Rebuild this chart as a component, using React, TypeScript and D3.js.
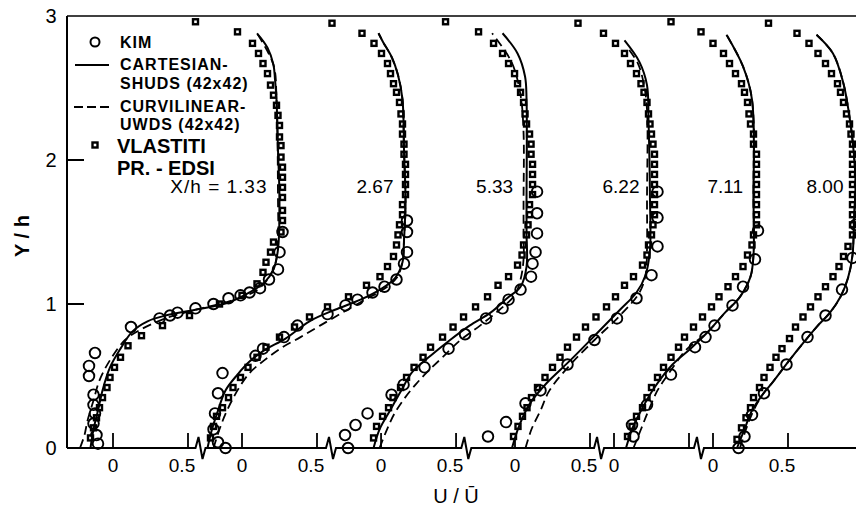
import React from "react";
import * as d3 from "d3";

// ---------- data (U/Ubar, Y/h) ----------
const stations = ["X/h = 1.33", "2.67", "5.33", "6.22", "7.11", "8.00"];
// zero of each profile on the shared U/Ubar axis
const offsets = [0, 0.86, 1.787, 2.68, 3.34, 4.0];
const yTicks = [0, 1, 2, 3];
const xTickValues = [0, 0.5];
const xTickLabelShown = [
  [true, true], [true, true], [true, true], [true, true], [true, false], [true, true],
];
const breakU = [0.59, 0.6, 0.575, 0.567, 0.573];

const kim1 = [[1.13,1.50],[1.11,1.36],[1.10,1.24],[1.04,1.17],[0.98,1.11],[0.91,1.08],[0.85,1.06],[0.77,1.04],[0.67,1.00],[0.55,0.97],[0.43,0.94],[0.38,0.92],[0.31,0.90],[0.12,0.84],[-0.12,0.66],[-0.16,0.57],[-0.16,0.50],[-0.13,0.37],[-0.13,0.30],[-0.12,0.24],[-0.13,0.17],[-0.11,0.09],[-0.10,0.03]];
const kim2 = [[1.10,1.58],[1.10,1.50],[1.10,1.36],[1.08,1.28],[1.03,1.17],[0.95,1.12],[0.87,1.08],[0.77,1.03],[0.69,0.99],[0.57,0.93],[0.37,0.85],[0.28,0.77],[0.14,0.69],[0.09,0.64],[-0.13,0.52],[-0.16,0.38],[-0.18,0.24],[-0.19,0.13],[-0.16,0.04],[-0.11,0.0]];
const kim3 = [[1.04,1.78],[1.04,1.63],[1.04,1.49],[1.03,1.36],[1.01,1.28],[1.00,1.19],[0.93,1.10],[0.85,1.03],[0.81,0.97],[0.70,0.90],[0.56,0.79],[0.45,0.69],[0.29,0.56],[0.15,0.44],[0.07,0.37],[-0.09,0.24],[-0.17,0.16],[-0.24,0.09],[-0.22,0.0]];
const kim4 = [[0.95,1.78],[0.95,1.60],[0.95,1.40],[0.91,1.20],[0.81,1.04],[0.68,0.90],[0.53,0.75],[0.35,0.58],[0.17,0.40],[0.07,0.31],[-0.06,0.18],[-0.18,0.08]];
const kim5 = [[0.96,1.51],[0.94,1.31],[0.86,1.12],[0.79,0.99],[0.67,0.85],[0.61,0.77],[0.54,0.70],[0.38,0.51],[0.22,0.30],[0.12,0.16],[0.13,0.08]];
const kim6 = [[0.95,1.55],[0.93,1.32],[0.86,1.10],[0.75,0.92],[0.63,0.77],[0.49,0.58],[0.34,0.38],[0.26,0.23],[0.21,0.08],[0.17,0.0]];

const vla1 = [[0.55,2.96],[0.83,2.89],[0.93,2.81],[0.97,2.74],[1.00,2.67],[1.03,2.60],[1.05,2.52],[1.07,2.45],[1.09,2.38],[1.10,2.31],[1.11,2.24],[1.11,2.16],[1.12,2.10],[1.12,2.02],[1.13,1.95],[1.13,1.88],[1.13,1.81],[1.13,1.74],[1.13,1.65],[1.13,1.58],[1.12,1.50],[1.07,1.43],[1.05,1.36],[1.02,1.29],[1.00,1.22],[0.96,1.14],[0.86,1.06],[0.71,1.00],[0.51,0.92],[0.33,0.85],[0.19,0.78],[0.10,0.71],[0.05,0.63],[0.01,0.56],[-0.02,0.49],[-0.04,0.42],[-0.07,0.35],[-0.09,0.28],[-0.11,0.21],[-0.13,0.14],[-0.15,0.07]];
const vla2 = [[0.60,2.95],[0.80,2.88],[0.88,2.81],[0.93,2.74],[0.97,2.67],[0.99,2.60],[1.01,2.53],[1.03,2.47],[1.05,2.40],[1.06,2.32],[1.07,2.25],[1.07,2.18],[1.08,2.11],[1.08,2.04],[1.09,1.97],[1.09,1.90],[1.09,1.83],[1.09,1.76],[1.07,1.69],[1.07,1.62],[1.05,1.55],[1.04,1.48],[1.03,1.41],[1.01,1.33],[0.97,1.26],[0.92,1.19],[0.83,1.13],[0.71,1.05],[0.57,0.98],[0.45,0.91],[0.35,0.84],[0.25,0.77],[0.16,0.70],[0.10,0.63],[0.04,0.56],[-0.01,0.49],[-0.06,0.42],[-0.09,0.35],[-0.13,0.28],[-0.17,0.22],[-0.19,0.15],[-0.21,0.07]];
const vla3 = [[0.43,2.96],[0.65,2.89],[0.75,2.81],[0.81,2.74],[0.85,2.67],[0.89,2.60],[0.91,2.53],[0.93,2.47],[0.95,2.40],[0.96,2.32],[0.97,2.25],[0.99,2.18],[1.00,2.11],[1.00,2.04],[1.01,1.97],[1.01,1.90],[1.01,1.83],[1.01,1.76],[0.99,1.69],[0.99,1.62],[0.98,1.55],[0.97,1.48],[0.95,1.41],[0.94,1.34],[0.91,1.27],[0.85,1.19],[0.78,1.13],[0.71,1.05],[0.63,0.98],[0.55,0.91],[0.48,0.84],[0.41,0.77],[0.33,0.70],[0.28,0.63],[0.22,0.56],[0.17,0.49],[0.13,0.42],[0.08,0.35],[0.05,0.28],[0.01,0.22],[-0.03,0.15],[-0.05,0.07]];
const vla4 = [[0.42,2.95],[0.59,2.88],[0.67,2.81],[0.73,2.74],[0.77,2.67],[0.81,2.60],[0.84,2.53],[0.86,2.47],[0.88,2.40],[0.89,2.32],[0.90,2.25],[0.91,2.18],[0.92,2.11],[0.93,2.04],[0.93,1.97],[0.93,1.90],[0.93,1.83],[0.93,1.76],[0.93,1.69],[0.93,1.62],[0.92,1.55],[0.91,1.48],[0.89,1.41],[0.88,1.34],[0.85,1.27],[0.79,1.19],[0.73,1.13],[0.67,1.05],[0.61,0.98],[0.54,0.91],[0.47,0.84],[0.41,0.77],[0.35,0.70],[0.30,0.63],[0.25,0.56],[0.20,0.49],[0.15,0.42],[0.11,0.35],[0.08,0.28],[0.05,0.22],[0.02,0.15],[-0.01,0.08]];
const vla5 = [[0.38,2.96],[0.58,2.89],[0.66,2.81],[0.73,2.74],[0.77,2.67],[0.81,2.60],[0.85,2.53],[0.87,2.47],[0.89,2.40],[0.90,2.32],[0.91,2.25],[0.93,2.18],[0.93,2.11],[0.95,2.04],[0.95,1.97],[0.95,1.90],[0.95,1.83],[0.95,1.76],[0.95,1.69],[0.95,1.62],[0.95,1.55],[0.93,1.48],[0.92,1.41],[0.89,1.34],[0.86,1.26],[0.81,1.19],[0.76,1.12],[0.70,1.05],[0.65,0.98],[0.59,0.91],[0.53,0.84],[0.47,0.77],[0.43,0.70],[0.38,0.63],[0.33,0.56],[0.29,0.49],[0.25,0.42],[0.22,0.35],[0.19,0.28],[0.15,0.22],[0.12,0.15],[0.09,0.08]];
const vla6 = [[0.37,2.95],[0.56,2.88],[0.64,2.81],[0.70,2.74],[0.75,2.67],[0.79,2.60],[0.83,2.53],[0.85,2.47],[0.87,2.40],[0.89,2.32],[0.91,2.25],[0.92,2.18],[0.93,2.11],[0.93,2.04],[0.93,1.97],[0.93,1.90],[0.93,1.83],[0.93,1.76],[0.93,1.69],[0.93,1.62],[0.93,1.55],[0.93,1.48],[0.90,1.40],[0.87,1.33],[0.84,1.26],[0.80,1.19],[0.75,1.12],[0.70,1.05],[0.65,0.98],[0.60,0.91],[0.55,0.84],[0.51,0.76],[0.46,0.69],[0.42,0.63],[0.38,0.56],[0.34,0.49],[0.31,0.42],[0.27,0.35],[0.25,0.28],[0.22,0.21],[0.19,0.14],[0.16,0.06]];

const cart1 = [[-0.15,0],[-0.13,0.13],[-0.10,0.26],[-0.07,0.40],[-0.02,0.56],[0.05,0.69],[0.13,0.81],[0.23,0.88],[0.35,0.92],[0.55,0.96],[0.77,1.01],[0.91,1.08],[1.01,1.15],[1.07,1.24],[1.10,1.38],[1.11,1.72],[1.10,2.07],[1.09,2.42],[1.08,2.56],[1.07,2.66],[1.03,2.78],[0.96,2.88]];
const cart2 = [[-0.23,0],[-0.20,0.13],[-0.16,0.26],[-0.11,0.40],[-0.03,0.51],[0.05,0.60],[0.15,0.68],[0.29,0.76],[0.45,0.88],[0.62,0.96],[0.79,1.03],[0.92,1.10],[1.02,1.18],[1.07,1.29],[1.08,1.44],[1.09,1.72],[1.08,2.07],[1.07,2.42],[1.04,2.59],[1.00,2.71],[0.94,2.82],[0.91,2.88]];
const cart3 = [[-0.05,0],[-0.01,0.13],[0.06,0.26],[0.13,0.39],[0.21,0.53],[0.33,0.64],[0.46,0.75],[0.59,0.85],[0.73,0.94],[0.84,1.04],[0.93,1.12],[0.97,1.26],[0.97,1.49],[0.97,1.72],[0.97,2.42],[0.96,2.58],[0.91,2.74],[0.81,2.88]];
const cart4 = [[-0.02,0],[0.03,0.16],[0.10,0.31],[0.21,0.45],[0.37,0.61],[0.55,0.80],[0.70,0.96],[0.81,1.08],[0.87,1.20],[0.90,1.38],[0.90,1.72],[0.89,2.28],[0.88,2.52],[0.83,2.68],[0.73,2.83]];
const cart5 = [[0.08,0],[0.12,0.13],[0.17,0.24],[0.27,0.42],[0.39,0.58],[0.51,0.69],[0.62,0.80],[0.74,0.94],[0.84,1.05],[0.91,1.19],[0.93,1.34],[0.93,1.72],[0.92,2.42],[0.86,2.65],[0.75,2.87]];
const cart6 = [[0.16,0],[0.21,0.13],[0.26,0.26],[0.33,0.37],[0.40,0.46],[0.51,0.61],[0.61,0.74],[0.69,0.84],[0.78,0.94],[0.85,1.05],[0.90,1.18],[0.93,1.34],[0.94,1.58],[0.95,1.86],[0.93,2.14],[0.91,2.30],[0.87,2.53],[0.80,2.74],[0.69,2.87]];

const curv1 = [[-0.22,0],[-0.19,0.09],[-0.17,0.19],[-0.13,0.33],[-0.09,0.47],[-0.02,0.61],[0.08,0.75],[0.18,0.82],[0.35,0.90],[0.55,0.96],[0.78,1.02],[0.95,1.09],[1.03,1.17],[1.08,1.27],[1.10,1.44],[1.10,1.72],[1.09,2.42],[1.07,2.66],[0.96,2.88]];
const curv2 = [[-0.19,0],[-0.15,0.13],[-0.10,0.26],[-0.03,0.40],[0.05,0.52],[0.15,0.61],[0.27,0.70],[0.39,0.77],[0.52,0.85],[0.67,0.94],[0.82,1.03],[0.94,1.10],[1.03,1.18],[1.07,1.29],[1.08,1.44],[1.09,1.72],[1.08,2.07],[1.07,2.42],[1.04,2.59],[1.00,2.71],[0.94,2.82],[0.91,2.88]];
const curv3 = [[-0.01,0],[0.04,0.13],[0.09,0.24],[0.16,0.35],[0.23,0.44],[0.31,0.53],[0.41,0.63],[0.53,0.75],[0.66,0.85],[0.79,0.96],[0.89,1.06],[0.93,1.17],[0.95,1.31],[0.95,1.51],[0.95,1.72],[0.95,2.19],[0.93,2.45],[0.87,2.68],[0.74,2.88]];
const curv4 = [[0.07,0],[0.11,0.13],[0.17,0.26],[0.23,0.40],[0.37,0.58],[0.53,0.75],[0.70,0.92],[0.83,1.08],[0.87,1.20],[0.88,1.38],[0.88,1.72],[0.88,2.35],[0.86,2.52],[0.82,2.67],[0.75,2.78]];
const curv5 = [[0.13,0],[0.18,0.13],[0.23,0.26],[0.29,0.40],[0.36,0.51],[0.48,0.68],[0.62,0.80],[0.74,0.94],[0.84,1.05],[0.91,1.19],[0.93,1.34],[0.93,1.72],[0.92,2.42],[0.86,2.65],[0.75,2.87]];
const curv6 = [[0.18,0],[0.22,0.13],[0.27,0.26],[0.33,0.37],[0.40,0.46],[0.51,0.61],[0.61,0.74],[0.69,0.84],[0.78,0.94],[0.85,1.05],[0.90,1.18],[0.93,1.34],[0.94,1.58],[0.95,1.86],[0.93,2.14],[0.91,2.30],[0.87,2.53],[0.80,2.74],[0.69,2.87]];

const kimSets = [kim1, kim2, kim3, kim4, kim5, kim6];
const vlaSets = [vla1, vla2, vla3, vla4, vla5, vla6];
const cartSets = [cart1, cart2, cart3, cart4, cart5, cart6];
const curvSets = [curv1, curv2, curv3, curv4, curv5, curv6];

const legendLabels = ["KIM", "CARTESIAN-", "SHUDS (42x42)", "CURVILINEAR-", "UWDS (42x42)", "VLASTITI", "PR. - EDSI"];

// ---------- layout ----------
const W = 856, H = 508;
const LEFT = 67, RIGHT = 856;
const FONT = "'Liberation Sans', Arial, Helvetica, sans-serif";
const yScale = d3.scaleLinear().domain([0, 3]).range([448, 16]);
const xScale = d3.scaleLinear().domain([0, 1]).range([113, 263]);
const stationLabelU = [1.03, 1.01, 0.88, 0.83, 0.86, 0.87];

const X = (k: number, u: number) => xScale(offsets[k] + u);

export default function App() {
  const line = (k: number) =>
    d3.line<number[]>()
      .x((d) => X(k, d[0]))
      .y((d) => yScale(d[1]))
      .curve(d3.curveCatmullRom.alpha(0.5));

  const y0 = yScale(0);
  // bottom axis with breaks
  let axisPath = `M${LEFT},${y0}`;
  breakU.forEach((b, i) => {
    const bx = X(i, b);
    axisPath += ` H${bx - 6} L${bx - 3},${y0 - 11} L${bx + 1},${y0 + 11} L${bx + 4},${y0}`;
  });
  axisPath += ` H${RIGHT}`;

  return (
    <svg width={W} height={H} style={{ position: "absolute", left: 0, top: 0, background: "#fff" }}
      fontFamily={FONT}>
      <rect x={0} y={0} width={W} height={H} fill="#fff" />
      {/* frame */}
      <line x1={LEFT} x2={LEFT} y1={yScale(3)} y2={y0} stroke="#000" strokeWidth={2} />
      <line x1={LEFT} x2={RIGHT} y1={yScale(3)} y2={yScale(3)} stroke="#000" strokeWidth={1.6} />
      <path d={axisPath} fill="none" stroke="#000" strokeWidth={2} />

      {/* y ticks */}
      {yTicks.map((t) => (
        <g key={"yt" + t}>
          {t > 0 && t < 3 && (
            <line x1={LEFT} x2={LEFT + 17} y1={yScale(t)} y2={yScale(t)} stroke="#000" strokeWidth={2} />
          )}
          <text x={LEFT - 16} y={yScale(t) + 7} fontSize={20} textAnchor="middle" fill="#000">{t}</text>
        </g>
      ))}

      {/* x ticks */}
      {offsets.map((_, k) =>
        xTickValues.map((v, j) => (
          <g key={`xt${k}-${j}`}>
            <line x1={X(k, v)} x2={X(k, v)} y1={y0} y2={y0 - 15} stroke="#000" strokeWidth={1.8} />
            {xTickLabelShown[k][j] && (
              <text x={X(k, v) - (v ? 6 : 0)} y={y0 + 24} fontSize={19} textAnchor="middle" fill="#000">
                {v === 0 ? "0" : "0.5"}
              </text>
            )}
          </g>
        ))
      )}

      {/* axis titles */}
      <text x={456} y={503} fontSize={20} textAnchor="middle" fill="#000">U / Ū</text>
      <text transform="translate(29,236) rotate(-90)" fontSize={20} textAnchor="middle" fill="#000" fontWeight="bold">Y / h</text>

      {/* station labels */}
      {stations.map((s, k) => (
        <text key={"st" + k} x={X(k, stationLabelU[k])} y={193} fontSize={19} textAnchor="end" fill="#000" letterSpacing={k === 0 ? 1 : 0}>{s}</text>
      ))}

      {/* Vlastiti squares */}
      {vlaSets.map((set, k) =>
        set.map((d, i) => (
          <rect key={`v${k}-${i}`} x={X(k, d[0]) - 2.5} y={yScale(d[1]) - 2.5} width={5} height={5}
            fill="#fff" stroke="#000" strokeWidth={2.4} />
        ))
      )}
      {/* Kim circles */}
      {kimSets.map((set, k) =>
        set.map((d, i) => (
          <circle key={`k${k}-${i}`} cx={X(k, d[0])} cy={yScale(d[1])} r={5.3}
            fill="none" stroke="#000" strokeWidth={1.9} />
        ))
      )}
      {/* curves */}
      {curvSets.map((set, k) => (
        <path key={"cv" + k} d={line(k)(set) || ""} fill="none" stroke="#000" strokeWidth={1.8} strokeDasharray="9,5" />
      ))}
      {cartSets.map((set, k) => (
        <path key={"ct" + k} d={line(k)(set) || ""} fill="none" stroke="#000" strokeWidth={2} />
      ))}

      {/* legend */}
      <circle cx={95} cy={42} r={4.5} fill="none" stroke="#000" strokeWidth={2} />
      <text x={120} y={48} fontSize={16} fontWeight="bold" letterSpacing={1} fill="#000">{legendLabels[0]}</text>
      <line x1={75} x2={109} y1={65} y2={65} stroke="#000" strokeWidth={1.8} />
      <text x={120} y={70} fontSize={16} fontWeight="bold" letterSpacing={1} fill="#000">{legendLabels[1]}</text>
      <text x={120} y={89} fontSize={16} fontWeight="bold" letterSpacing={1} fill="#000">{legendLabels[2]}</text>
      <line x1={74} x2={113} y1={107} y2={107} stroke="#000" strokeWidth={1.8} strokeDasharray="9,4" />
      <text x={120} y={112} fontSize={16} fontWeight="bold" letterSpacing={1} fill="#000">{legendLabels[3]}</text>
      <text x={120} y={130} fontSize={16} fontWeight="bold" letterSpacing={1} fill="#000">{legendLabels[4]}</text>
      <rect x={92.5} y={142.5} width={5} height={5} fill="#fff" stroke="#000" strokeWidth={2.4} />
      <text x={117} y={153} fontSize={20} fontWeight="bold" fill="#000">{legendLabels[5]}</text>
      <text x={117} y={175} fontSize={20} fontWeight="bold" fill="#000">{legendLabels[6]}</text>
    </svg>
  );
}
